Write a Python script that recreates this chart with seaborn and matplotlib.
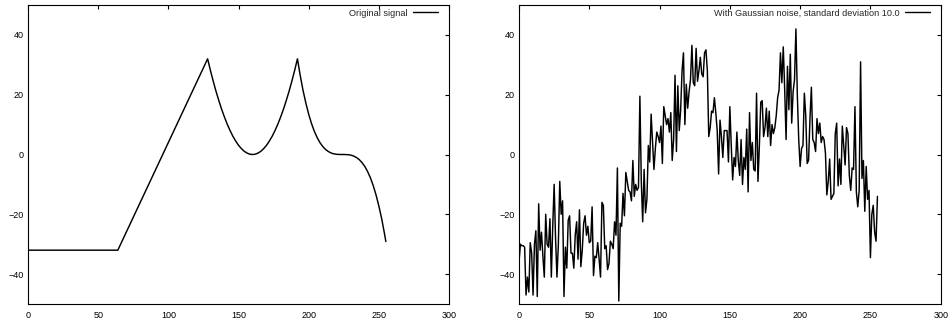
import numpy as np
import pandas as pd
import matplotlib
matplotlib.use("Agg")
import matplotlib.pyplot as plt
import seaborn as sns

# Original signal, sampled at its break points and along the curved parts
signal_x = [0, 64, 72, 80, 88, 96, 104, 112, 120, 128,
            130, 132, 134, 136, 138, 140, 142, 144, 146, 148, 150, 152, 154, 156, 158, 160,
            162, 164, 166, 168, 170, 172, 174, 176, 178, 180, 182, 184, 186, 188, 190, 192,
            194, 196, 198, 200, 202, 204, 206, 208, 210, 212, 214, 216, 218, 220, 222, 224,
            226, 228, 230, 232, 234, 236, 238, 240, 242, 244, 246, 248, 250, 252, 254, 255]
signal_y = [-32, -32, -24, -16, -8, 0, 8, 16, 24, 32,
            28.1, 24.5, 21.1, 18, 15.1, 12.5, 10.1, 8, 6.1, 4.5, 3.1, 2, 1.1, 0.5, 0.1, 0,
            0.1, 0.5, 1.1, 2, 3.1, 4.5, 6.1, 8, 10.1, 12.5, 15.1, 18, 21.1, 24.5, 28.1, 32,
            26.4, 21.4, 17.2, 13.5, 10.4, 7.8, 5.7, 4.0, 2.7, 1.7, 1.0, 0.5, 0.2, 0.06, 0.01, 0,
            -0.01, -0.06, -0.2, -0.5, -1.0, -1.7, -2.7, -4.0, -5.7, -7.8, -10.4, -13.5,
            -17.2, -21.4, -26.4, -29.1]

# Same signal with Gaussian noise (sd 10), one value per sample 0..255
noisy_y = [
    -36, -30, -30.5, -30.5, -31, -47, -41, -46, -29.5, -33,
    -47, -30, -25.5, -47.5, -16.5, -32, -26, -34, -41, -20,
    -30, -31, -21.5, -41, -24, -10, -28, -41, -30, -9,
    -20, -15.5, -47.5, -31, -38, -22, -20.5, -33, -33, -38,
    -27, -22.5, -35, -18.5, -37.5, -32, -23, -20.5, -27, -24,
    -29.5, -29, -17.5, -40.5, -34, -34.5, -29.5, -35, -41, -16,
    -17, -31.5, -30.5, -38.5, -36.5, -29, -30, -31.5, -22.5, -27,
    -4.5, -49, -23, -24, -13, -20.5, -6, -9, -12, -12.5,
    -15.5, -2, -14, -10, -12, -11, 19.5, -9, -22.5, -5,
    -19.5, -15, 3, -2.5, 13.5, 4, -5, 2, 7.5, 6,
    4, 9.5, -3, 16, 13, 10, 12, 7.5, 14, -2,
    5, 26.5, 1, 23, 8, 15, 28, 34, 10, 23.5,
    15.5, 21, 25, 36.5, 24, 23, 35.5, 24.5, 28, 32.5,
    27, 26, 34, 35, 28, 6, 9, 14.5, 14, 19,
    14, 8, -6.5, 11.5, 6, -1, 8, 8, 8, -2.5,
    16, 3, -8.5, -1, -4, 7.5, -2, -7, 5, -10,
    -1, -5, 8.5, -12.5, 14, -2, 4, -5, -5.5, 20.5,
    -9, 3, 17.5, 18, 6, 9, 15.5, 6, 14.5, 3,
    10, 7, 9, 13, 19, 21.5, 34, 24, 36, 22,
    5, 29.5, 15, 33.5, 10.5, 21, 25, 42, 20, 5,
    -4, 2, 3, 20.5, 13, -3, -2, 12, 22.5, 5,
    4, 1, 12, 7, 10.5, 4, 6, 5, 0.5, -13.5,
    -9, -1.5, -15, -14, -13, 7, 10.5, -10.5, -1.5, -10,
    9.5, 3, -3.5, 9, 7, -7, -12, -4.5, -5, 16,
    -12.5, -17.5, -12, 31, -8, -2, -19, -4, -15, -12,
    -34.5, -20, -17, -26, -29, -14,
]
noisy_x = list(range(len(noisy_y)))

x_ticks = [0, 50, 100, 150, 200, 250, 300]
y_ticks = [-40, -20, 0, 20, 40]
titles = ["Original signal", "With Gaussian noise, standard deviation 10.0"]

sns.set_style("white")
plt.rcParams["font.family"] = ["Liberation Sans", "DejaVu Sans"]
plt.rcParams["axes.linewidth"] = 0.8
plt.rcParams["axes.edgecolor"] = "black"

fig = plt.figure(figsize=(9.49, 3.22), dpi=100)
ax_left = fig.add_axes([28 / 949, 18 / 322, 421 / 949, 299 / 322])
ax_right = fig.add_axes([519 / 949, 18 / 322, 421.7 / 949, 299 / 322])

frames = [
    pd.DataFrame({"x": signal_x, "y": signal_y}),
    pd.DataFrame({"x": noisy_x, "y": noisy_y}),
]

for ax, df, label in zip([ax_left, ax_right], frames, titles):
    sns.lineplot(data=df, x="x", y="y", ax=ax, color="black", linewidth=1.05,
                 label=label, sort=False, estimator=None)
    ax.set_xlim(0, 300)
    ax.set_ylim(-50, 50)
    ax.set_xticks(x_ticks)
    ax.set_yticks(y_ticks)
    ax.set_xlabel("")
    ax.set_ylabel("")
    ax.tick_params(direction="in", length=3, width=0.8, top=True, right=True,
                   labelsize=6.5, colors="black", pad=3)
    ax.tick_params(axis="x", pad=5)
    for s in ax.spines.values():
        s.set_visible(True)
        s.set_color("black")
    leg = ax.legend(loc="upper right", bbox_to_anchor=(1 - 11 / 421, 1 - 3.5 / 299),
                    frameon=False, markerfirst=False,
                    fontsize=6.6, handlelength=2.7, handletextpad=0.6,
                    borderaxespad=0.0, borderpad=0.0)
    for line in leg.get_lines():
        line.set_linewidth(1.0)

fig.savefig("out.png", dpi=100)
